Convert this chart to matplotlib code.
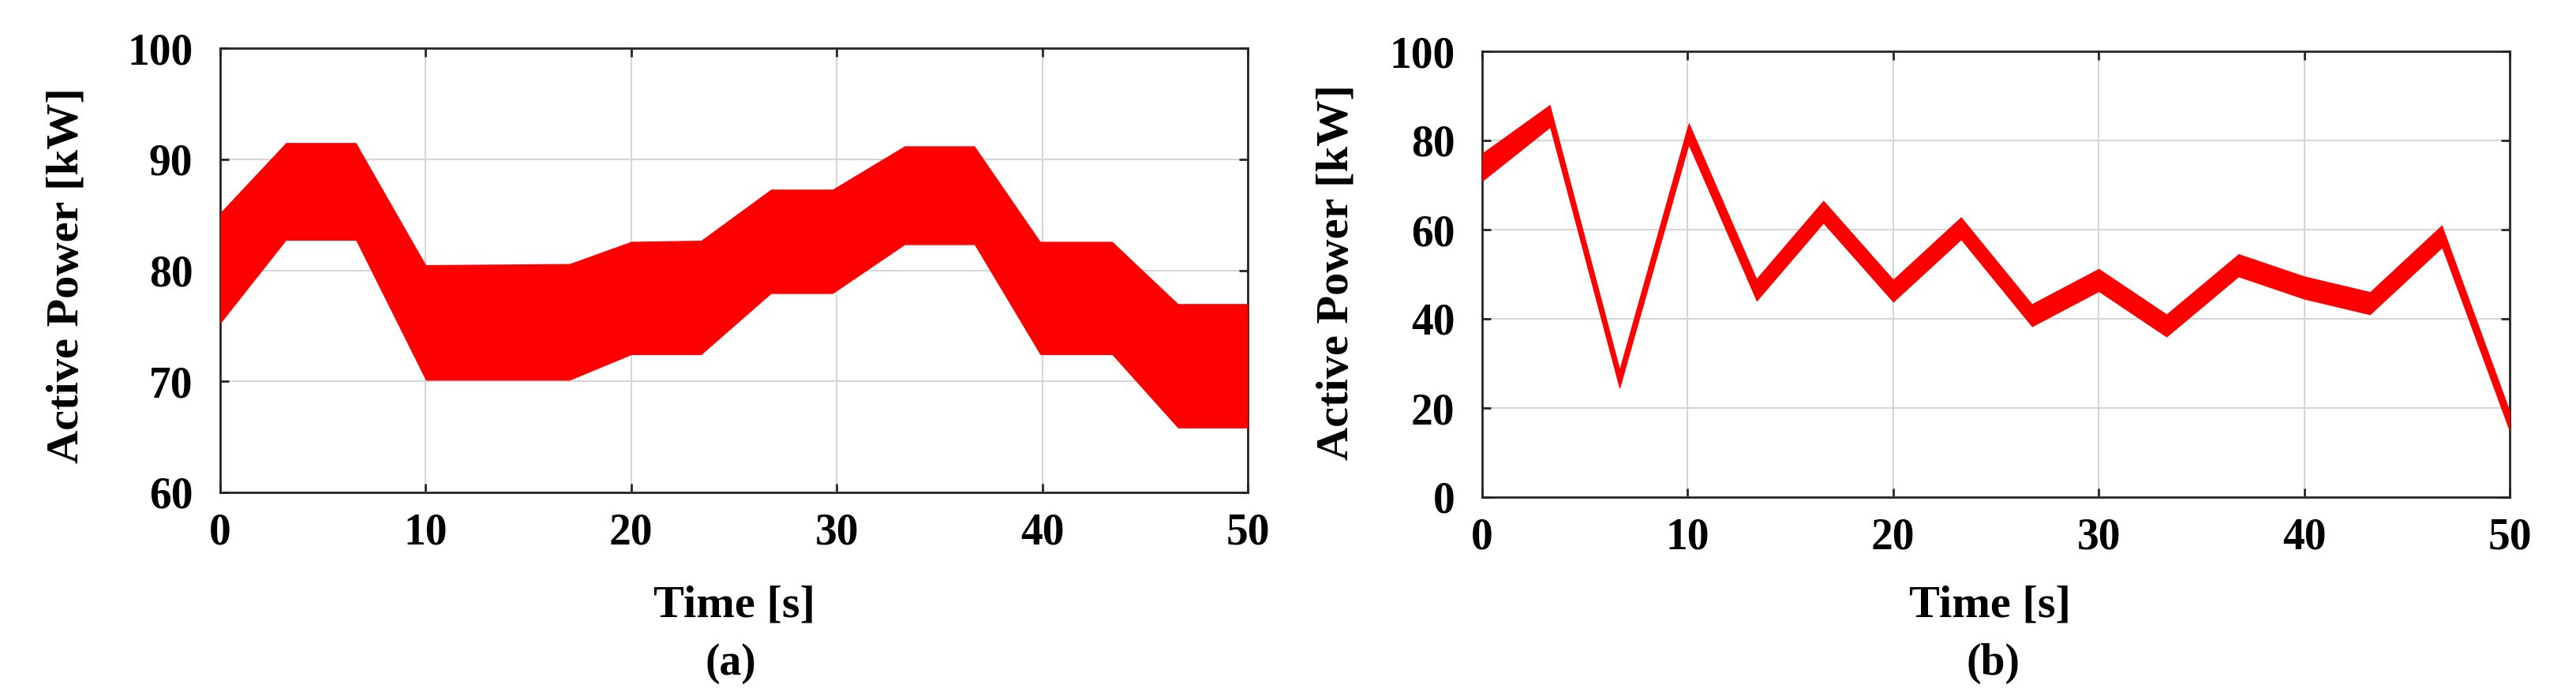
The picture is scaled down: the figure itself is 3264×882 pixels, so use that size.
import matplotlib
matplotlib.use("Agg")
import matplotlib.pyplot as plt
import numpy as np

# ---- data (a): envelope of the oscillating active power ----
t_a = [0.0, 3.2, 6.6, 10.0, 17.0, 20.0, 23.4, 26.8, 29.8, 33.3, 36.7, 39.9, 43.4, 46.6, 50.0]
upper_a = [85.2, 91.5, 91.5, 80.5, 80.6, 82.6, 82.7, 87.3, 87.3, 91.2, 91.2, 82.6, 82.6, 77.0, 77.0]
lower_a = [75.2, 82.7, 82.7, 70.1, 70.1, 72.4, 72.4, 77.9, 77.9, 82.3, 82.3, 72.4, 72.4, 65.8, 65.8]

# ---- data (b): centre of the noisy active power trace ----
t_b = [0.0, 3.3, 6.7, 10.05, 13.35, 16.6, 20.0, 23.3, 26.75, 30.0, 33.3, 36.8, 40.0, 43.2, 46.7, 50.0]
p_b = [74.0, 85.5, 26.5, 81.5, 46.5, 64.0, 46.3, 60.3, 40.8, 48.7, 38.5, 52.0, 47.0, 43.5, 58.5, 17.0]
band_b = [3.2, 2.6, 2.0, 2.6, 2.6, 2.6, 2.6, 2.6, 2.6, 2.6, 2.6, 2.6, 2.6, 2.6, 2.6, 2.4]  # half width [kW]

xticks = [0, 10, 20, 30, 40, 50]
yticks_a = [60, 70, 80, 90, 100]
yticks_b = [0, 20, 40, 60, 80, 100]

RED = "#ff0000"
FONT = "Liberation Serif"
plt.rcParams["font.family"] = [FONT, "DejaVu Serif"]
plt.rcParams["font.weight"] = "bold"

fig = plt.figure(figsize=(32.64, 8.82), dpi=100)
W, H = 3264.0, 882.0
ax_a = fig.add_axes([279 / W, 1 - 624 / H, 1302 / W, 563 / H])
ax_b = fig.add_axes([1878 / W, 1 - 630 / H, 1302 / W, 565 / H])


def style(ax, yticks, ylim):
    ax.set_xlim(0, 50)
    ax.set_ylim(*ylim)
    ax.set_xticks(xticks)
    ax.set_yticks(yticks)
    ax.grid(True, color="#d6d6d6", linewidth=1.5)
    ax.set_axisbelow(True)
    for s in ax.spines.values():
        s.set_color("#262626")
        s.set_linewidth(2.0)
    ax.tick_params(axis="both", which="both", direction="in", length=8, width=2.0,
                   color="#262626", top=True, right=True)
    ax.tick_params(axis="x", pad=18, labelsize=40)
    ax.tick_params(axis="y", pad=25, labelsize=40)
    for lab in ax.get_xticklabels() + ax.get_yticklabels():
        lab.set_fontweight("bold")


# panel (a)
ax_a.fill_between(t_a, lower_a, upper_a, color=RED, linewidth=0, zorder=3)
style(ax_a, yticks_a, (60, 100))
ax_a.set_ylabel("Active Power [kW]", fontsize=42, fontweight="bold")
ax_a.yaxis.set_label_coords(-0.1298, 0.488)
ax_a.set_xlabel("Time [s]", fontsize=42, fontweight="bold")
ax_a.xaxis.set_label_coords(0.5, -0.2806)
ax_a.xaxis.label.set_va("baseline")
ax_a.text(0.497, -0.410, "(a)", transform=ax_a.transAxes, ha="center", va="baseline",
          fontsize=40, fontweight="bold")

# panel (b)
pb = np.array(p_b)
hb = np.array(band_b)
ax_b.fill_between(t_b, pb - hb, pb + hb, color=RED, linewidth=0, zorder=3)
ax_b.plot(t_b, p_b, color=RED, linewidth=5, zorder=3, solid_joinstyle="miter")
style(ax_b, yticks_b, (0, 100))
ax_b.set_ylabel("Active Power [kW]", fontsize=42, fontweight="bold")
ax_b.yaxis.set_label_coords(-0.1221, 0.505)
ax_b.set_xlabel("Time [s]", fontsize=42, fontweight="bold")
ax_b.xaxis.set_label_coords(0.494, -0.269)
ax_b.xaxis.label.set_va("baseline")
ax_b.text(0.497, -0.398, "(b)", transform=ax_b.transAxes, ha="center", va="baseline",
          fontsize=40, fontweight="bold")

fig.savefig("out.png", dpi=100, facecolor="white")
